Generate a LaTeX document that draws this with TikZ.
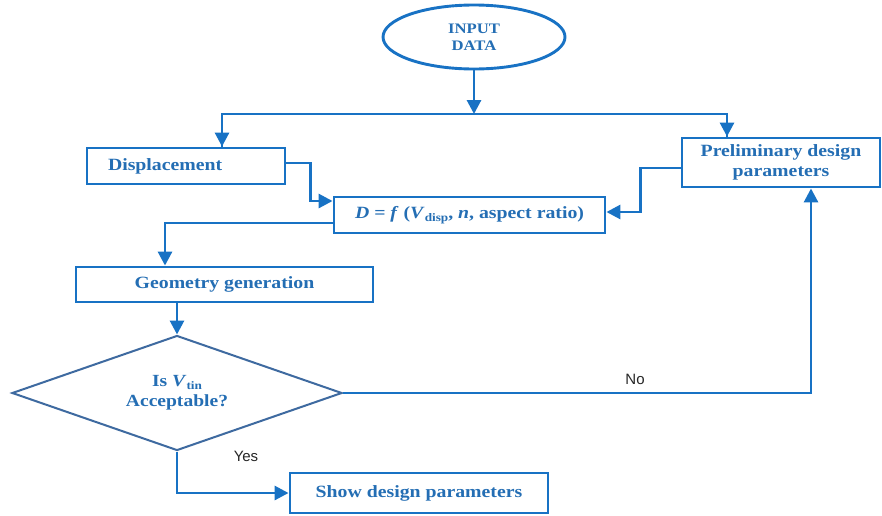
\documentclass[tikz,border=0pt]{standalone}
\usepackage{fontspec}
\setmainfont{Liberation Serif}[FakeStretch=1.15]
\newfontfamily\lblfont{Liberation Sans}
\usetikzlibrary{shapes.geometric,arrows.meta}
\definecolor{lineblue}{RGB}{24,114,196}
\definecolor{textblue}{RGB}{36,110,180}
\definecolor{diablue}{RGB}{62,106,160}
\tikzset{
  box/.style={draw=lineblue,line width=2.9pt,fill=white,text=textblue,font=\bfseries\fontsize{17.2}{19.5}\selectfont,inner sep=0pt,align=center},
  arr/.style={draw=lineblue,line width=2.9pt,-{Triangle[length=14pt,width=14pt]}},
  ln/.style={draw=lineblue,line width=2.9pt},
  lbl/.style={font=\lblfont\fontsize{15}{17}\selectfont,text=black!85}
}
\newcommand{\subtxt}[1]{\raisebox{-0.4ex}{\fontsize{11.5}{12}\selectfont #1}}
\begin{document}
\begin{tikzpicture}[x=1pt,y=-1pt]
\useasboundingbox[fill=white] (0,0) rectangle (882,515);
% nodes
\node[box,ellipse,minimum width=182pt,minimum height=64pt,font=\bfseries\fontsize{14.5}{17}\selectfont] (input) at (474,37) {INPUT\\DATA};
\coordinate (split) at (474,114);
\node[box,minimum width=198pt,minimum height=36pt,text width=198pt,align=left] (disp) at (186,166) {\hspace*{21pt}Displacement};
\node[box,minimum width=198pt,minimum height=49pt] (prelim) at (781,162.5) {Preliminary design\\parameters};
\node[box,minimum width=271pt,minimum height=36pt] (dfun) at (469.5,215) {\textit{D} = \textit{f} (\textit{V}\subtxt{disp}, \textit{n}, aspect ratio)};
\node[box,minimum width=297pt,minimum height=35pt] (geo) at (224.5,284.5) {Geometry generation};
\node[draw=diablue,line width=2pt,diamond,aspect=2.9,minimum width=330pt,minimum height=115pt,inner sep=0pt,text=textblue,font=\bfseries\fontsize{17}{20}\selectfont,align=center] (dia) at (177,393) {Is \textit{V}\subtxt{tin}\\Acceptable?};
\node[box,minimum width=258pt,minimum height=40pt] (show) at (419,493) {Show design parameters};
\node[lbl] (no) at (635,379) {No};
\node[lbl] (yes) at (246,456) {Yes};
% connectors
\draw[arr] (input.south) -- (split);
\draw[ln] (split) -| ([xshift=36pt]disp.north);
\draw[ln] (split) -| ([xshift=-54pt]prelim.north);
\draw[arr] ([xshift=36pt]disp.north |- split) -- ([xshift=36pt]disp.north);
\draw[arr] ([xshift=-54pt]prelim.north |- split) -- ([xshift=-54pt]prelim.north);
\draw[arr] ([yshift=3pt]disp.east) -- ++(24,0) |- ([yshift=14pt]dfun.west);
\draw[arr] ([yshift=-5.5pt]prelim.west) -- ++(-40,0) |- ([yshift=3pt]dfun.east);
\draw[arr] ([yshift=-8pt]dfun.west) -| ([xshift=-59.5pt]geo.north);
\draw[arr] (geo.south -| dia.north) -- (dia.north);
\draw[arr] (dia.east) -| ([xshift=30pt]prelim.south);
\draw[arr] (dia.south) |- (show.west);
\end{tikzpicture}
\end{document}
